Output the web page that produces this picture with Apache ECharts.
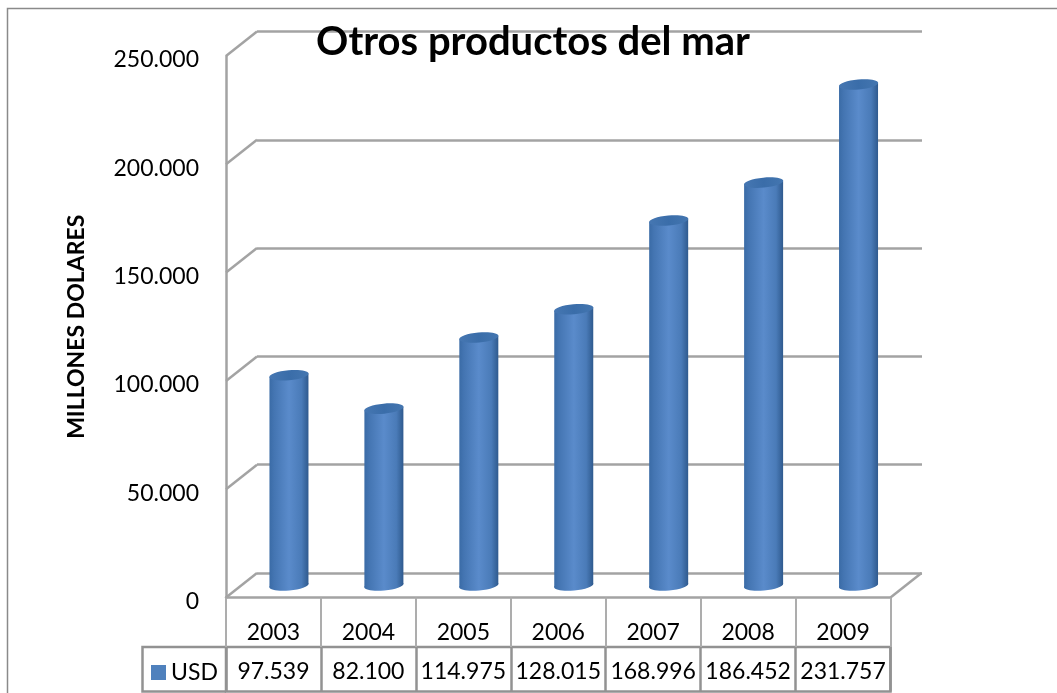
<!DOCTYPE html>
<html><head><meta charset="utf-8">
<style>html,body{margin:0;padding:0;background:#fff}#c{width:1057px;height:693px}</style>
<script src="https://cdn.jsdelivr.net/npm/echarts@6/dist/echarts.min.js"></script>
</head><body><div id="c"></div>
<script>
const categories = ['2003','2004','2005','2006','2007','2008','2009'];
const usdValues = [97539,82100,114975,128015,168996,186452,231757];
const usdLabels = ['97.539','82.100','114.975','128.015','168.996','186.452','231.757'];
const yTicks = [0,50000,100000,150000,200000,250000];
const seriesName = 'USD';
const FONT = 'Lato';
const GREY = '#a3a3a3';
const GREY_D = '#929292';
const fmt = v => v === 0 ? '0' : (v/1000).toFixed(0) + '.000';
const chart = echarts.init(document.getElementById('c'), null, {renderer:'canvas'});
const DX = 31, DY = -24.5;
const gradient = new echarts.graphic.LinearGradient(0,0,1,0,[
  {offset:0,color:'#3a6ba6'},{offset:0.12,color:'#4475b2'},{offset:0.5,color:'#5a8bcb'},
  {offset:0.82,color:'#4a7bb8'},{offset:1,color:'#2f5a8e'}]);
const capGrad = new echarts.graphic.LinearGradient(0,0,1,0,[
  {offset:0,color:'#4677b2'},{offset:0.5,color:'#3a6da9'},{offset:1,color:'#4476b0'}]);
const option = {
  animation:false,
  title:{text:'Otros productos del mar',left:528,top:17,textAlign:'center',z:20,
    textStyle:{fontFamily:FONT,fontSize:40,fontWeight:'bold',color:'#000'}},
  legend:{data:[{name:seriesName,icon:'rect',itemStyle:{color:'#4f81bd'}}],left:146,top:656,itemWidth:15,itemHeight:15,itemGap:6,
    textStyle:{fontFamily:FONT,fontSize:23,color:'#000'},selectedMode:false},
  graphic:[
    {type:'polyline',shape:{points:[[7.5,693],[7.5,8.5],[1057,8.5]]},style:{stroke:'#8a8a8a',fill:null,lineWidth:1.5},silent:true},
    {type:'polyline',shape:{points:[[226,647],[142.5,647],[142.5,691.5],[226,691.5]]},style:{stroke:GREY_D,fill:null,lineWidth:2.5},silent:true}
  ],
  grid:[
    {left:226,top:56,width:664.5,height:541.5},
    {left:257,top:31.5,width:665,height:541.5},
    {left:226,top:647,width:664.5,height:44.5,show:true,borderColor:GREY_D,borderWidth:2.5,backgroundColor:'transparent'}
  ],
  xAxis:[
    {type:'category',gridIndex:0,data:categories,boundaryGap:true,
      axisLine:{show:true,lineStyle:{color:GREY,width:2.5}},
      axisTick:{show:true,interval:0,length:49.5,alignWithLabel:false,lineStyle:{color:'#adadad',width:2}},
      axisLabel:{margin:24,interval:0,fontFamily:FONT,fontSize:23,color:'#000'}},
    {type:'category',gridIndex:1,data:categories,axisLine:{show:false},axisTick:{show:false},axisLabel:{show:false}},
    {type:'category',gridIndex:2,data:usdLabels,position:'top',
      axisLine:{show:false},axisTick:{show:false},
      splitLine:{show:true,interval:0,lineStyle:{color:GREY_D,width:2.5}},
      axisLabel:{inside:true,margin:13,interval:0,fontFamily:FONT,fontSize:23,color:'#000',verticalAlign:'top'}}
  ],
  yAxis:[
    {type:'value',gridIndex:0,min:0,max:250000,interval:50000,
      name:'MILLONES DOLARES',nameLocation:'middle',nameRotate:90,nameGap:138,
      nameTextStyle:{fontFamily:FONT,fontSize:23,fontWeight:'bold',color:'#000'},
      axisLine:{show:true,lineStyle:{color:GREY,width:2.5}},axisTick:{show:false},
      splitLine:{show:false},
      axisLabel:{margin:27,fontFamily:FONT,fontSize:23,color:'#000',formatter:fmt,verticalAlign:'top',lineHeight:8}},
    {type:'value',gridIndex:1,min:0,max:250000,interval:50000,
      axisLine:{show:false},axisTick:{show:false},axisLabel:{show:false},
      splitLine:{show:true,lineStyle:{color:GREY,width:2.5}}},
    {type:'value',gridIndex:2,min:0,max:1,axisLine:{show:false},axisTick:{show:false},axisLabel:{show:false},splitLine:{show:false}}
  ],
  series:[
    {type:'custom',name:'walls',xAxisIndex:0,yAxisIndex:0,silent:true,clip:false,z:1,
      data:yTicks.map(v=>[0,v]),
      renderItem(params,api){
        const p=api.coord([0,api.value(1)]);
        const left=params.coordSys.x;
        const children=[{type:'line',shape:{x1:left,y1:p[1],x2:left+DX,y2:p[1]+DY},style:{stroke:GREY,lineWidth:2.5}}];
        if(api.value(1)===0){
          const r=left+params.coordSys.width;
          children.push({type:'line',shape:{x1:r,y1:p[1],x2:r+DX,y2:p[1]+DY},style:{stroke:GREY,lineWidth:2.5}});
        }
        return {type:'group',children};
      }},
    {type:'custom',name:seriesName,xAxisIndex:0,yAxisIndex:0,clip:false,z:5,
      itemStyle:{color:'#4f81bd'},
      encode:{x:0,y:1},
      data:usdValues.map((v,i)=>[i,v]),
      renderItem(params,api){
        const top=api.coord([api.value(0),api.value(1)]);
        const bot=api.coord([api.value(0),0]);
        const cx=top[0]+15.5, ty=top[1]-11, by=bot[1]-12, r=19.5, t=1.8;
        const rot=Math.atan2(t,r);
        return {type:'group',children:[
          {type:'ellipse',shape:{cx:0,cy:0,rx:r+0.2,ry:5},x:cx,y:by,rotation:rot,style:{fill:gradient}},
          {type:'polygon',shape:{points:[[cx-r,ty+t],[cx+r,ty-t],[cx+r,by-t],[cx-r,by+t]]},style:{fill:gradient}},
          {type:'ellipse',shape:{cx:0,cy:0,rx:r+0.2,ry:5},x:cx,y:ty,rotation:rot,style:{fill:capGrad}}
        ]};
      }}
  ]
};
chart.setOption(option);
</script></body></html>
